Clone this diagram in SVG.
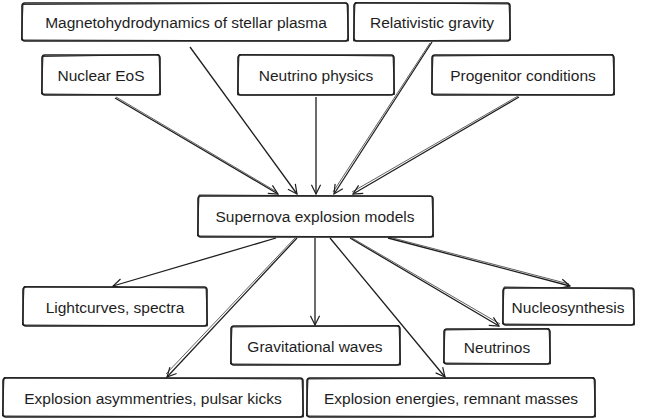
<svg xmlns="http://www.w3.org/2000/svg" width="646" height="419" viewBox="0 0 646 419">
<defs>
<style>
.box{fill:#ffffff;stroke:#1e1e1e;stroke-width:1.6;}
.box2{fill:none;stroke:#1e1e1e;stroke-width:0.9;}
.lbl{font-family:"Liberation Sans","DejaVu Sans",sans-serif;font-size:15.5px;fill:#1e1e1e;text-anchor:middle;dominant-baseline:central;}
.edge{fill:none;stroke:#1e1e1e;stroke-width:1.3;marker-end:url(#ah);}
.edge2{fill:none;stroke:#1e1e1e;stroke-width:0.7;}
</style>
<marker id="ah" viewBox="0 0 12 12" refX="11" refY="6" markerWidth="11" markerHeight="11" markerUnits="userSpaceOnUse" orient="auto">
<path d="M1,1 L11,6 L1,11" fill="none" stroke="#1e1e1e" stroke-width="1.3"/>
</marker>
</defs>
<rect width="646" height="419" fill="#ffffff"/>
<g id="connectors">
<path class="edge" d="M115,98 L278,194"/>
<path class="edge2" d="M116,97 L277,192"/>
<path class="edge" d="M190,47 L297,194"/>
<path class="edge" d="M316,97 L316,194"/>
<path class="edge" d="M432,42 L334,194"/>
<path class="edge2" d="M430,43 L333,192"/>
<path class="edge" d="M519,97 L353,194"/>
<path class="edge2" d="M518,96 L352,192"/>
<path class="edge" d="M276,238 L113,286"/>
<path class="edge" d="M297,238 L167,377"/>
<path class="edge2" d="M295,238 L166,374"/>
<path class="edge" d="M315,238 L315,325"/>
<path class="edge" d="M330,238 L445,377"/>
<path class="edge" d="M350,238 L499,326"/>
<path class="edge2" d="M352,238 L500,324"/>
<path class="edge" d="M388,238 L570,286"/>
<path class="edge2" d="M389,237 L569,284"/>
</g>
<g id="n-mhd">
<rect class="box" x="22" y="3" width="326" height="38" rx="3"/>
<path class="box2" d="M23,4.5 L347,3 L348.5,41 L21.5,40 Z"/>
<text class="lbl" x="186" y="22">Magnetohydrodynamics of stellar plasma</text>
</g>
<g id="n-rel">
<rect class="box" x="354" y="3" width="156" height="38" rx="3"/>
<path class="box2" d="M355,2.5 L509,4 L510.5,40 L353.5,41 Z"/>
<text class="lbl" x="432" y="22">Relativistic gravity</text>
</g>
<g id="n-eos">
<rect class="box" x="42" y="55" width="118" height="40" rx="3"/>
<path class="box2" d="M43,56.5 L159,54.5 L160.5,95 L41.5,94 Z"/>
<text class="lbl" x="101" y="75">Nuclear EoS</text>
</g>
<g id="n-nphys">
<rect class="box" x="238" y="55" width="156" height="40" rx="3"/>
<path class="box2" d="M239,54.5 L393,56 L394.5,94.5 L237.5,95 Z"/>
<text class="lbl" x="316" y="75">Neutrino physics</text>
</g>
<g id="n-prog">
<rect class="box" x="432" y="55" width="182" height="40" rx="3"/>
<path class="box2" d="M433,56 L613,54.5 L614.5,95 L431.5,94 Z"/>
<text class="lbl" x="523" y="75">Progenitor conditions</text>
</g>
<g id="n-sn">
<rect class="box" x="198" y="196" width="235" height="41" rx="3"/>
<path class="box2" d="M199,195 L432,196.5 L433.5,237 L197.5,236 Z"/>
<text class="lbl" x="315" y="216">Supernova explosion models</text>
</g>
<g id="n-light">
<rect class="box" x="23" y="287" width="184" height="39" rx="3"/>
<path class="box2" d="M24,286.5 L206,288 L207.5,326 L22.5,325 Z"/>
<text class="lbl" x="115" y="307">Lightcurves, spectra</text>
</g>
<g id="n-gw">
<rect class="box" x="231" y="326" width="169" height="39" rx="3"/>
<path class="box2" d="M232,327 L399,325.5 L400.5,365 L230.5,364 Z"/>
<text class="lbl" x="315" y="346">Gravitational waves</text>
</g>
<g id="n-nucleo">
<rect class="box" x="503" y="288" width="131" height="37" rx="3"/>
<path class="box2" d="M504,287 L633,289 L634.5,325 L502.5,324 Z"/>
<text class="lbl" x="568" y="307">Nucleosynthesis</text>
</g>
<g id="n-neut">
<rect class="box" x="444" y="329" width="106" height="35" rx="3"/>
<path class="box2" d="M445,330 L549,328.5 L550.5,364 L443.5,363 Z"/>
<text class="lbl" x="497" y="347">Neutrinos</text>
</g>
<g id="n-asym">
<rect class="box" x="3" y="378" width="300" height="39" rx="3"/>
<path class="box2" d="M4,377.5 L302,379 L303.5,417 L2.5,416 Z"/>
<text class="lbl" x="153" y="398">Explosion asymmentries, pulsar kicks</text>
</g>
<g id="n-energ">
<rect class="box" x="307" y="378" width="288" height="39" rx="3"/>
<path class="box2" d="M308,379 L594,377.5 L595.5,417 L306.5,416 Z"/>
<text class="lbl" x="451" y="398">Explosion energies, remnant masses</text>
</g>
</svg>
